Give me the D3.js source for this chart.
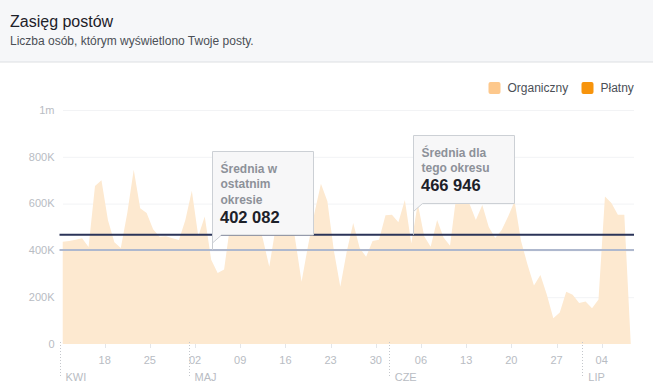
<!DOCTYPE html>
<html>
<head>
<meta charset="utf-8">
<script src="https://cdn.jsdelivr.net/npm/d3@7"></script>
<style>
body { margin: 0; background: #fff; font-family: "Liberation Sans", Arial, sans-serif; }
</style>
</head>
<body>
<div id="chart"></div>
<script>
// daily reach, organic posts, from 11 April
var startDay = "2016-04-11";
var reach = [
    437000, 440000, 446000, 452000, 415000, 675000, 700000, 530000, 435000, 410000,
    560000, 745000, 580000, 560000, 490000, 458000, 460000, 452000, 444000, 530000,
    655000, 460000, 545000, 360000, 303000, 318000, 520000, 590000, 530000, 610000,
    540000, 450000, 330000, 500000, 600000, 640000, 450000, 266000, 420000, 560000,
    685000, 610000, 400000, 245000, 395000, 517000, 410000, 373000, 440000, 445000,
    550000, 552000, 520000, 615000, 430000, 600000, 460000, 416000, 530000, 455000,
    420000, 640000, 660000, 600000, 530000, 594000, 500000, 453000, 487000, 545000,
    610000, 440000, 340000, 250000, 295000, 210000, 110000, 135000, 223000, 210000,
    175000, 182000, 153000, 190000, 630000, 603000, 552000, 552000, 0
];

var yTicks = [0, 200000, 400000, 600000, 800000, 1000000];
var yTickLabels = ["0", "200K", "400K", "600K", "800K", "1m"];
var monthLabels = ["KWI", "MAJ", "CZE", "LIP"];
var seriesNames = ["Organiczny", "Płatny"];
var seriesColours = ["#fdc88c", "#f7940c"];

var avgPrev = 402082;
var avgCur = 466946;
var avgPrevLabel = ["Średnia w", "ostatnim", "okresie"];
var avgCurLabel = ["Średnia dla", "tego okresu"];

var width = 653, height = 389;

var svg = d3.select("#chart").append("svg")
    .attr("width", width)
    .attr("height", height);

// header
svg.append("rect")
    .attr("width", width).attr("height", 62)
    .style("fill", "#f6f7f9");
svg.append("line")
    .attr("x1", 0).attr("x2", width)
    .attr("y1", 62).attr("y2", 62)
    .style("stroke", "#dddfe2");
svg.append("text")
    .attr("x", 10).attr("y", 27)
    .style("font-size", "16px")
    .style("fill", "#1d2129")
    .text("Zasięg postów");
svg.append("text")
    .attr("x", 10).attr("y", 44.5)
    .style("font-size", "12px")
    .style("fill", "#4b4f56")
    .text("Liczba osób, którym wyświetlono Twoje posty.");

// legend
var legendX = [488.5, 581.5];
var legend = svg.selectAll(".legend")
    .data(seriesNames)
    .enter().append("g")
    .attr("class", "legend")
    .attr("transform", function(d, i) { return "translate(" + legendX[i] + ",82)"; });
legend.append("rect")
    .attr("width", 12).attr("height", 12)
    .attr("rx", 2)
    .style("fill", function(d, i) { return seriesColours[i]; });
legend.append("text")
    .attr("x", 19).attr("y", 10)
    .style("font-size", "12px")
    .style("fill", "#4b4f56")
    .text(function(d) { return d; });

// scales
var parse = d3.timeParse("%Y-%m-%d");
var start = parse(startDay);
var end = d3.timeDay.offset(start, reach.length);
var data = reach.map(function(v, i) {
    return { date: d3.timeHour.offset(d3.timeDay.offset(start, i), 12), value: v };
});

var x = d3.scaleTime().domain([start, end]).range([59.5, 634]);
var y = d3.scaleLinear().domain([0, 1000000]).range([344, 110]);

// grid + y labels
svg.selectAll(".grid")
    .data(yTicks.slice(1))
    .enter().append("line")
    .attr("class", "grid")
    .attr("x1", 63).attr("x2", 634)
    .attr("y1", function(d) { return y(d) + 0.5; })
    .attr("y2", function(d) { return y(d) + 0.5; })
    .style("stroke", "#f2f3f5");
svg.selectAll(".ylab")
    .data(yTicks)
    .enter().append("text")
    .attr("class", "ylab")
    .attr("x", 54.5)
    .attr("y", function(d) { return y(d); })
    .attr("dy", "0.35em")
    .attr("text-anchor", "end")
    .style("font-size", "11px")
    .style("fill", "#b8bcc3")
    .text(function(d, i) { return yTickLabels[i]; });

// area
var area = d3.area()
    .x(function(d) { return x(d.date); })
    .y0(y(0))
    .y1(function(d) { return y(d.value); });
svg.append("path")
    .datum(data)
    .attr("d", area)
    .style("fill", "#fde9d0");

// x ticks (weeks)
var weeks = x.ticks(d3.timeMonday.every(1)).filter(function(d) { return d > start; });
var fmtDay = d3.timeFormat("%d");
svg.selectAll(".xtick")
    .data(weeks)
    .enter().append("line")
    .attr("class", "xtick")
    .attr("x1", function(d) { return Math.round(x(d)) + 0.5; })
    .attr("x2", function(d) { return Math.round(x(d)) + 0.5; })
    .attr("y1", 344).attr("y2", 348)
    .style("stroke", "#e4e6e9");
svg.selectAll(".xlab")
    .data(weeks)
    .enter().append("text")
    .attr("class", "xlab")
    .attr("x", function(d) { return x(d); })
    .attr("y", 364)
    .attr("text-anchor", "middle")
    .style("font-size", "11px")
    .style("fill", "#b8bcc3")
    .text(function(d) { return fmtDay(d); });

// month dividers
var months = [start].concat(d3.timeMonth.range(d3.timeMonth.ceil(start), end));
svg.selectAll(".mline")
    .data(months)
    .enter().append("line")
    .attr("class", "mline")
    .attr("x1", function(d) { return Math.round(x(d)) + 0.5; })
    .attr("x2", function(d) { return Math.round(x(d)) + 0.5; })
    .attr("y1", 342).attr("y2", 377)
    .style("stroke", "#c4c7cc")
    .style("stroke-dasharray", "1,2");
svg.selectAll(".mlab")
    .data(months)
    .enter().append("text")
    .attr("class", "mlab")
    .attr("x", function(d) { return x(d) + 6; })
    .attr("y", 380.5)
    .style("font-size", "11px")
    .style("fill", "#b8bcc3")
    .text(function(d, i) { return monthLabels[i]; });

// average lines
svg.append("line")
    .attr("x1", 59.5).attr("x2", 634)
    .attr("y1", y(avgPrev)).attr("y2", y(avgPrev))
    .style("stroke", "#aeb8ce")
    .style("stroke-width", 2);
svg.append("line")
    .attr("x1", 59.5).attr("x2", 634)
    .attr("y1", y(avgCur)).attr("y2", y(avgCur))
    .style("stroke", "#2b3459")
    .style("stroke-width", 2);

// callouts
var fmtNum = d3.formatLocale({ decimal: ",", thousands: " ", grouping: [3], currency: ["", ""] }).format(",d");

function callout(left, top, w, bottom, lineY, lines, value) {
    var g = svg.append("g");
    g.append("line")
        .attr("x1", left).attr("x2", left)
        .attr("y1", bottom).attr("y2", lineY)
        .style("stroke", "#c9ccd1");
    g.append("path")
        .attr("d", "M" + left + "," + top + "H" + (left + w) + "V" + bottom +
            "H" + (left + 9) + "L" + left + "," + (bottom + 8) + "Z")
        .style("fill", "#f7f7f8")
        .style("stroke", "#ccd0d5");
    lines.forEach(function(t, i) {
        g.append("text")
            .attr("x", left + 8)
            .attr("y", top + 21 + i * 15.5)
            .style("font-size", "12px")
            .style("font-weight", "bold")
            .style("fill", "#8d9199")
            .text(t);
    });
    g.append("text")
        .attr("x", left + 7.5)
        .attr("y", top + 24.5 + lines.length * 15.5)
        .style("font-size", "16.5px")
        .style("font-weight", "bold")
        .style("fill", "#1d2129")
        .text(fmtNum(value));
}

callout(212.5, 151.5, 101, 235, y(avgPrev), avgPrevLabel, avgPrev);
callout(413.5, 135.5, 101, 203.5, y(avgCur), avgCurLabel, avgCur);
</script>
</body>
</html>
